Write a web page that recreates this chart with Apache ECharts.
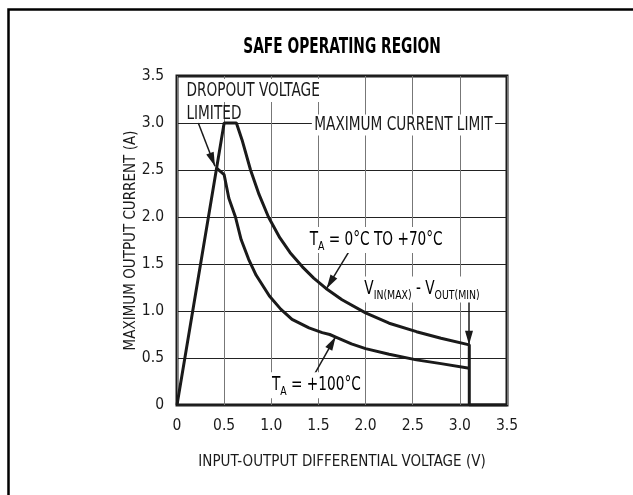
<!DOCTYPE html>
<html>
<head>
<meta charset="utf-8">
<script src="https://cdn.jsdelivr.net/npm/echarts@6/dist/echarts.min.js"></script>
<style>
  html, body { margin: 0; padding: 0; background: #fff; }
  #chart { width: 633px; height: 495px; }
</style>
</head>
<body>
<div id="chart"></div>
<script>
// values
const xTickLabels = ['0', '0.5', '1.0', '1.5', '2.0', '2.5', '3.0', '3.5']
const yTickLabels = ['0', '0.5', '1.0', '1.5', '2.0', '2.5', '3.0', '3.5']

// TA = 0°C to +70°C (includes dropout ramp, drop at VIN(MAX)-VOUT(MIN))
const upperV = [0, 0.5, 0.63, 0.69, 0.78, 0.87, 0.97, 1.09, 1.2, 1.33, 1.45, 1.58, 1.75, 2.0, 2.25, 2.54, 2.8, 3.1, 3.1, 3.5]
const upperI = [0, 3.0, 3.0, 2.82, 2.5, 2.24, 2.0, 1.78, 1.62, 1.47, 1.35, 1.24, 1.12, 0.98, 0.87, 0.78, 0.71, 0.64, 0, 0]

// TA = +100°C
const lowerV = [0.42, 0.5, 0.55, 0.62, 0.68, 0.76, 0.84, 0.98, 1.1, 1.22, 1.4, 1.54, 1.62, 1.69, 1.85, 2.0, 2.25, 2.54, 2.8, 3.1]
const lowerI = [2.52, 2.45, 2.2, 2.0, 1.76, 1.55, 1.38, 1.16, 1.02, 0.91, 0.82, 0.77, 0.75, 0.72, 0.65, 0.6, 0.54, 0.48, 0.44, 0.39]

// annotation arrows: [fromV, fromI, toV, toI]
const arrows = [
  [0.226, 3.0, 0.403, 2.54],
  [1.835, 1.65, 1.587, 1.24],
  [3.097, 1.12, 3.097, 0.64],
  [1.463, 0.337, 1.683, 0.727],
]

const FONT = "'Liberation Sans Narrow', 'DejaVu Sans Condensed', 'Liberation Sans', sans-serif"
const INK = '#1a1a1a'

let chart = echarts.init(document.getElementById('chart'))

let zip = (xs, ys) => xs.map((x, i) => [x, ys[i]])
let tickFmt = (labels) => (v) => labels[Math.round(v / 0.5)]

let option = {
  animation: false,
  backgroundColor: '#fff',
  grid: {
    left: 177, right: 126, top: 76, bottom: 90,
    show: true, borderColor: INK, borderWidth: 3,
  },
  xAxis: {
    type: 'value', min: 0, max: 3.5, interval: 0.5,
    name: 'INPUT-OUTPUT DIFFERENTIAL VOLTAGE (V)',
    nameLocation: 'middle', nameGap: 50, nameMoveOverlap: false,
    nameTextStyle: { fontFamily: FONT, fontSize: 15, color: INK },
    axisLine: { show: false }, axisTick: { show: false },
    axisLabel: { formatter: tickFmt(xTickLabels), fontFamily: FONT, fontSize: 15.5, color: INK, margin: 13 },
    splitLine: { show: true, lineStyle: { color: '#777', width: 1 } },
  },
  yAxis: {
    type: 'value', min: 0, max: 3.5, interval: 0.5,
    name: 'MAXIMUM OUTPUT CURRENT (A)',
    nameLocation: 'middle', nameGap: 38, nameMoveOverlap: false,
    nameTextStyle: { fontFamily: FONT, fontSize: 15, color: INK },
    axisLine: { show: false }, axisTick: { show: false },
    axisLabel: { formatter: tickFmt(yTickLabels), fontFamily: FONT, fontSize: 15.5, color: INK, margin: 13 },
    splitLine: { show: true, lineStyle: { color: '#222', width: 1 } },
  },
  series: [
    {
      type: 'line', data: zip(upperV, upperI), showSymbol: false, symbol: 'none',
      lineStyle: { color: INK, width: 3 }, z: 5,
      markLine: {
        silent: true, animation: false,
        symbol: ['none', 'path://M4,-14 M4,0 L8,14 L0,14 Z'],
        label: { show: false },
        lineStyle: { color: INK, width: 1.5, type: 'solid' },
        itemStyle: { color: INK },
        data: arrows.map((a) => [
          { coord: [a[0], a[1]], symbol: 'none' },
          { coord: [a[2], a[3]], symbolSize: [8, 28] },
        ]),
      },
    },
    {
      type: 'line', data: zip(lowerV, lowerI), showSymbol: false, symbol: 'none',
      lineStyle: { color: INK, width: 3 }, z: 5,
    },
  ],
}
chart.setOption(option)

// text annotations placed in data space
let px = (v, i) => chart.convertToPixel({ gridIndex: 0 }, [v, i])
let sx = 0.8
let txt = (pos, text, extra) => ({
  type: 'text', x: pos[0], y: pos[1], scaleX: sx, z: 100,
  style: Object.assign({
    text: text, font: '19px ' + FONT, fill: INK,
    align: 'left', verticalAlign: 'middle',
  }, extra || {}),
})

let rich = {
  n: { fontFamily: FONT, fontSize: 19, color: INK, lineHeight: 26, verticalAlign: 'middle' },
  s: { fontFamily: FONT, fontSize: 13, color: INK, lineHeight: 26, verticalAlign: 'bottom' },
}
let richTxt = (pos, text) => ({
  type: 'text', x: pos[0], y: pos[1], scaleX: sx, z: 100,
  style: {
    text: text, rich: rich, align: 'left', verticalAlign: 'middle',
    backgroundColor: '#fff', padding: [0, 2],
  },
})

let graphics = [
  // outer frame (top and left edge)
  {
    type: 'polyline', z: 100,
    shape: { points: [[8.5, 495], [8.5, 9.5], [633, 9.5]] },
    style: { stroke: '#000', lineWidth: 2.5, fill: null },
  },
  {
    type: 'text', x: 342, y: 48, scaleX: 0.73, z: 100,
    style: {
      text: 'SAFE OPERATING REGION', font: 'bold 21px ' + FONT, fill: '#000',
      align: 'center', verticalAlign: 'middle',
    },
  },
  txt(px(0.1, 3.345), 'DROPOUT VOLTAGE', { backgroundColor: '#fff', lineHeight: 23 }),
  txt(px(0.1, 3.1), 'LIMITED'),
  txt(px(1.43, 2.98), 'MAXIMUM CURRENT LIMIT', { backgroundColor: '#fff', padding: [1, 3] }),
  richTxt(px(1.39, 1.755), '{n|T}{s|A}{n| = 0°C TO +70°C}'),
  richTxt(px(1.97, 1.23), '{n|V}{s|IN(MAX)}{n| - V}{s|OUT(MIN)}'),
  richTxt(px(0.99, 0.21), '{n|T}{s|A}{n| = +100°C}'),
]
chart.setOption({ graphic: graphics })
</script>
</body>
</html>
